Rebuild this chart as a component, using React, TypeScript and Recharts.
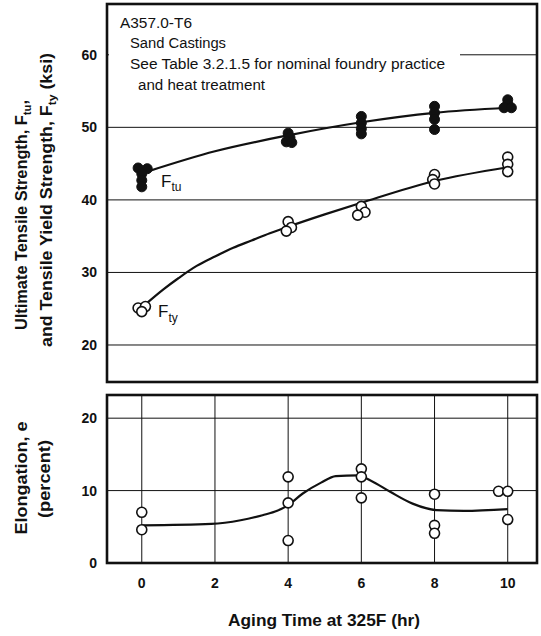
import { ComposedChart, Scatter, Line, XAxis, YAxis, CartesianGrid } from 'recharts'

// aging time (hr) ticks and value ticks
const AGING_TICKS = [0, 2, 4, 6, 8, 10]
const STRENGTH_TICKS = [20, 30, 40, 50, 60]
const ELONG_TICKS = [0, 10, 20]
const TIME_DOMAIN = [-0.95, 10.8]
const STRENGTH_DOMAIN = [14.9, 67]
const ELONG_DOMAIN = [0, 23.2]

// Ftu test points (ksi)
const ftuPoints = [
    { t: -0.1, v: 44.4 }, { t: 0.15, v: 44.3 }, { t: 0, v: 43.6 }, { t: 0, v: 42.7 }, { t: 0, v: 41.8 },
    { t: 4, v: 49.2 }, { t: 4.05, v: 48.6 }, { t: 3.95, v: 48.0 }, { t: 4.1, v: 47.9 },
    { t: 6, v: 51.5 }, { t: 6, v: 50.6 }, { t: 6, v: 49.8 }, { t: 6, v: 49.1 },
    { t: 8, v: 52.9 }, { t: 8, v: 52.0 }, { t: 8, v: 51.1 }, { t: 8, v: 49.7 },
    { t: 10, v: 53.8 }, { t: 10, v: 53.2 }, { t: 9.9, v: 52.7 }, { t: 10.1, v: 52.7 },
]

// Fty test points (ksi)
const ftyPoints = [
    { t: -0.1, v: 25.1 }, { t: 0.1, v: 25.3 }, { t: 0, v: 24.6 },
    { t: 4, v: 37.0 }, { t: 4.09, v: 36.2 }, { t: 3.95, v: 35.7 },
    { t: 6, v: 39.1 }, { t: 6.1, v: 38.3 }, { t: 5.9, v: 37.9 },
    { t: 8, v: 43.5 }, { t: 7.95, v: 42.8 }, { t: 8, v: 42.2 },
    { t: 10, v: 45.9 }, { t: 10, v: 44.9 }, { t: 10, v: 43.9 },
]

// elongation test points (percent)
const elongPoints = [
    { t: 0, v: 7.0 }, { t: 0, v: 4.6 },
    { t: 4, v: 11.9 }, { t: 4, v: 8.3 }, { t: 4, v: 3.1 },
    { t: 6, v: 13.0 }, { t: 6, v: 11.9 }, { t: 6, v: 9.0 },
    { t: 8, v: 9.5 }, { t: 8, v: 5.2 }, { t: 8, v: 4.1 },
    { t: 9.75, v: 9.9 }, { t: 10, v: 9.9 }, { t: 10, v: 6.0 },
]

// faired curves
const ftuCurve = [
    { t: 0.15, v: 43.9 }, { t: 2, v: 46.7 }, { t: 4, v: 48.9 },
    { t: 6, v: 50.7 }, { t: 8, v: 52.0 }, { t: 10, v: 52.7 },
]
const ftyCurve = [
    { t: 0.1, v: 25.6 }, { t: 0.6, v: 27.7 }, { t: 1, v: 29.2 }, { t: 1.5, v: 30.9 },
    { t: 2, v: 32.2 }, { t: 2.5, v: 33.4 }, { t: 3, v: 34.4 }, { t: 3.5, v: 35.4 },
    { t: 4, v: 36.3 }, { t: 5, v: 38.0 }, { t: 6, v: 39.6 }, { t: 8, v: 42.6 }, { t: 10, v: 44.5 },
]
const elongCurve = [
    { t: 0, v: 5.2 }, { t: 1.9, v: 5.4 }, { t: 2.7, v: 5.9 }, { t: 3.3, v: 6.6 },
    { t: 3.7, v: 7.2 }, { t: 4, v: 8.0 }, { t: 4.4, v: 9.6 }, { t: 4.9, v: 11.1 },
    { t: 5.3, v: 12.0 }, { t: 5.9, v: 12.1 }, { t: 6.25, v: 11.4 }, { t: 6.8, v: 9.8 },
    { t: 7.4, v: 8.2 }, { t: 8.05, v: 7.3 }, { t: 8.8, v: 7.2 }, { t: 10, v: 7.45 },
]

const FONT = 'Liberation Sans, Arial, sans-serif'
const INK = '#111'

const filledDot = (p: any) => <circle cx={p.cx} cy={p.cy} r={5} fill={INK} stroke={INK} strokeWidth={1} />
const openDot = (p: any) => <circle cx={p.cx} cy={p.cy} r={5} fill="#fff" stroke={INK} strokeWidth={1.6} />

const tickStyle = { fontFamily: 'Arial', fontSize: 14, fontWeight: 'bold', fill: INK }

export default function App() {
    return (
        <div style={{ position: 'absolute', left: 0, top: 0, width: 541, height: 636, background: '#fff' }}>
            <div style={{ position: 'absolute', left: 0, top: 0 }}>
                <ComposedChart width={541} height={390} margin={{ top: 4, right: 4, bottom: 8, left: 0 }}>
                    <CartesianGrid stroke={INK} strokeWidth={1} />
                    <XAxis
                        type="number"
                        dataKey="t"
                        domain={TIME_DOMAIN}
                        ticks={AGING_TICKS}
                        allowDataOverflow
                        height={0}
                        tick={false}
                        axisLine={false}
                        tickLine={false}
                    />
                    <YAxis
                        type="number"
                        dataKey="v"
                        domain={STRENGTH_DOMAIN}
                        ticks={STRENGTH_TICKS}
                        allowDataOverflow
                        width={107}
                        axisLine={false}
                        tickLine={false}
                        tickSize={0}
                        tickMargin={10}
                        tick={tickStyle}
                    />
                    {/* note box covering the grid */}
                    <rect x={109} y={6} width={351} height={92} fill="#fff" />
                    <g fontFamily={FONT} fontSize={14} fill={INK}>
                        <text x={120} y={28} textLength={72} lengthAdjust="spacingAndGlyphs">A357.0-T6</text>
                        <text x={130} y={48} textLength={96} lengthAdjust="spacingAndGlyphs">Sand Castings</text>
                        <text x={130} y={69} textLength={315} lengthAdjust="spacingAndGlyphs">See Table 3.2.1.5 for nominal foundry practice</text>
                        <text x={138} y={90} textLength={127} lengthAdjust="spacingAndGlyphs">and heat treatment</text>
                    </g>
                    <Line data={ftuCurve} dataKey="v" type="monotone" stroke={INK} strokeWidth={2.2} dot={false} isAnimationActive={false} />
                    <Line data={ftyCurve} dataKey="v" type="monotone" stroke={INK} strokeWidth={2.2} dot={false} isAnimationActive={false} />
                    <Scatter data={ftuPoints} dataKey="v" shape={filledDot} isAnimationActive={false} />
                    <Scatter data={ftyPoints} dataKey="v" shape={openDot} isAnimationActive={false} />
                    <g fontFamily={FONT} fill={INK}>
                        <text x={161} y={187} fontSize={17}>F<tspan fontSize={12} dy={4}>tu</tspan></text>
                        <text x={158} y={317} fontSize={17}>F<tspan fontSize={12} dy={5}>ty</tspan></text>
                    </g>
                    <rect x={107} y={4} width={430} height={378} fill="none" stroke={INK} strokeWidth={2.6} />
                    <g fontFamily={FONT} fontWeight="bold" fontSize={16} fill={INK}>
                        <text transform="translate(27,215) rotate(-90)" textAnchor="middle" textLength={230} lengthAdjust="spacingAndGlyphs">
                            Ultimate Tensile Strength, F<tspan fontSize={11} dy={4}>tu</tspan><tspan dy={-4}>,</tspan>
                        </text>
                        <text transform="translate(52,200) rotate(-90)" textAnchor="middle" textLength={294} lengthAdjust="spacingAndGlyphs">
                            and Tensile Yield Strength, F<tspan fontSize={11} dy={4}>ty</tspan><tspan dy={-4}> (ksi)</tspan>
                        </text>
                    </g>
                </ComposedChart>
            </div>
            <div style={{ position: 'absolute', left: 0, top: 390 }}>
                <ComposedChart width={541} height={246} margin={{ top: 5, right: 4, bottom: 43, left: 0 }}>
                    <CartesianGrid stroke={INK} strokeWidth={1} />
                    <XAxis
                        type="number"
                        dataKey="t"
                        domain={TIME_DOMAIN}
                        ticks={AGING_TICKS}
                        allowDataOverflow
                        height={30}
                        axisLine={false}
                        tickLine={false}
                        tickSize={0}
                        tickMargin={15}
                        tick={tickStyle}
                    />
                    <YAxis
                        type="number"
                        dataKey="v"
                        domain={ELONG_DOMAIN}
                        ticks={ELONG_TICKS}
                        allowDataOverflow
                        width={107}
                        axisLine={false}
                        tickLine={false}
                        tickSize={0}
                        tickMargin={10}
                        tick={tickStyle}
                    />
                    <Line data={elongCurve} dataKey="v" type="monotone" stroke={INK} strokeWidth={2.2} dot={false} isAnimationActive={false} />
                    <Scatter data={elongPoints} dataKey="v" shape={openDot} isAnimationActive={false} />
                    <rect x={107} y={5} width={430} height={168} fill="none" stroke={INK} strokeWidth={2.6} />
                    <g fontFamily={FONT} fontWeight="bold" fontSize={16} fill={INK}>
                        <text transform="translate(27,88) rotate(-90)" textAnchor="middle" textLength={113} lengthAdjust="spacingAndGlyphs">Elongation, e</text>
                        <text transform="translate(50,89) rotate(-90)" textAnchor="middle" textLength={78} lengthAdjust="spacingAndGlyphs">(percent)</text>
                        <text x={324} y={236} textAnchor="middle" fontSize={17} textLength={192} lengthAdjust="spacingAndGlyphs">Aging Time at 325F (hr)</text>
                    </g>
                </ComposedChart>
            </div>
        </div>
    )
}
